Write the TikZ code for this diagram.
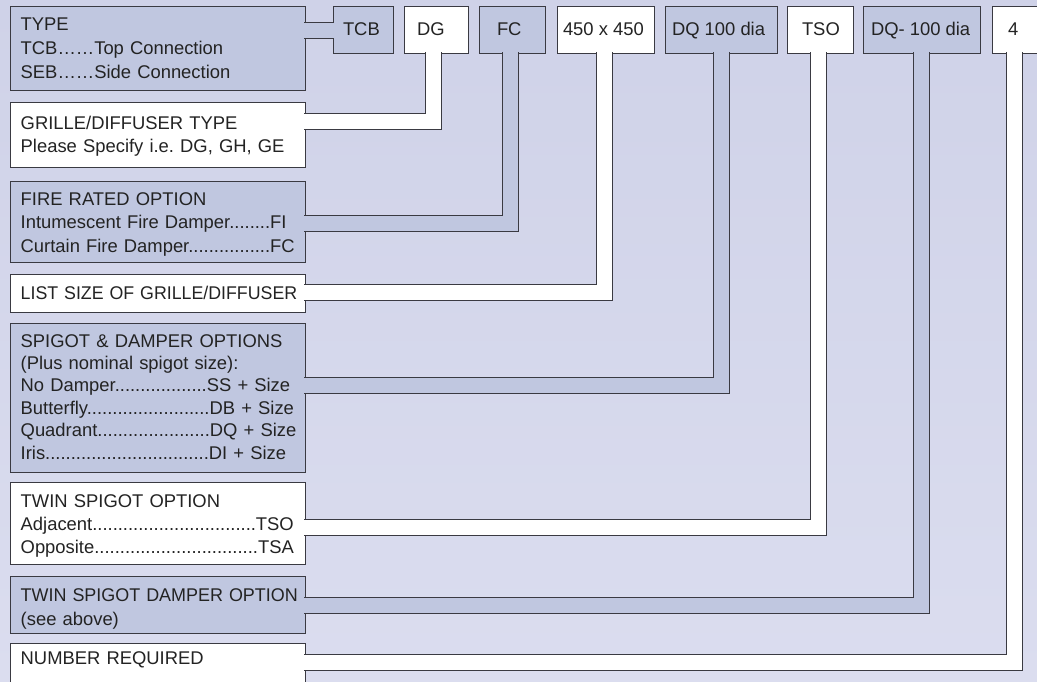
\documentclass[tikz,border=0pt]{standalone}
\usepackage{fontspec}
\usepackage{graphicx}
\setmainfont{Liberation Sans}
\usetikzlibrary{calc}
\ExplSyntaxOn
\cs_new:Npn \dotsrep #1 { \prg_replicate:nn {#1} {.} }
\ExplSyntaxOff
\frenchspacing
\definecolor{bgtop}{RGB}{207,210,232}
\definecolor{bgbot}{RGB}{219,221,239}
\definecolor{boxblue}{RGB}{192,199,224}
\definecolor{edge}{RGB}{58,58,66}
\definecolor{txt}{RGB}{35,35,35}
\begin{document}
\begin{tikzpicture}[x=1pt,y=-1pt,
  box/.style={draw=edge, line width=1pt, rectangle, inner sep=0pt, outer sep=0pt, anchor=north west},
  bbox/.style={box, fill=boxblue},
  wbox/.style={box, fill=white},
  lbl/.style={anchor=base west, inner sep=0pt, outer sep=0pt, text=txt, text width=292pt, align=left, font=\fontsize{18.4}{23.5}\selectfont},
  tlbl/.style={anchor=base west, inner sep=0pt, outer sep=0pt, text=txt, font=\fontsize{18.4}{23.5}\selectfont},
  band/.style={draw=edge, line width=1pt, double distance=15pt, line join=miter, shorten <=-1pt, shorten >=-1pt},
  bandB/.style={band, double=boxblue},
  bandW/.style={band, double=white},
]
\useasboundingbox (0,0) rectangle (1037,681);
\clip (0,0) rectangle (1037,681);
\shade[top color=bgtop, bottom color=bgbot] (0,0) rectangle (1037,681);

% left boxes
\node[bbox, minimum width=295pt, minimum height=84pt]  (typebox)  at (10,6)   {};
\node[wbox, minimum width=295pt, minimum height=65pt]  (grillebox) at (10,102) {};
\node[bbox, minimum width=295pt, minimum height=81pt]  (firebox)  at (10,181) {};
\node[wbox, minimum width=295pt, minimum height=38pt]  (listbox)  at (10,274) {};
\node[bbox, minimum width=295pt, minimum height=149pt] (spigbox)  at (10,323) {};
\node[wbox, minimum width=295pt, minimum height=82pt]  (twinbox)  at (10,482) {};
\node[bbox, minimum width=295pt, minimum height=57pt]  (twindbox) at (10,576) {};
\node[wbox, minimum width=295pt, minimum height=60pt]  (numbox)   at (10,643) {};

% top boxes
\node[bbox, minimum width=60pt,  minimum height=47pt] (tcb)  at (333,6) {};
\node[wbox, minimum width=64pt,  minimum height=47pt] (dg)   at (404,6) {};
\node[bbox, minimum width=66pt,  minimum height=47pt] (fc)   at (479,6) {};
\node[wbox, minimum width=97pt,  minimum height=47pt] (size) at (557,6) {};
\node[bbox, minimum width=112pt, minimum height=47pt] (dq)   at (665,6) {};
\node[wbox, minimum width=66pt,  minimum height=47pt] (tso)  at (787,6) {};
\node[bbox, minimum width=117pt, minimum height=47pt] (dqb)  at (863,6) {};
\node[wbox, minimum width=60pt,  minimum height=47pt] (num)  at (992,6) {};

% connecting bands
\draw[bandB] (typebox.east |- 0,30) -- (tcb.west |- 0,30);
\draw[bandW] (grillebox.east |- 0,121) -| (433,0 |- dg.south);
\draw[bandB] (firebox.east |- 0,223.5) -| (510,0 |- fc.south);
\draw[bandW] (listbox.east |- 0,292) -| (604,0 |- size.south);
\draw[bandB] (spigbox.east |- 0,385) -| (721,0 |- dq.south);
\draw[bandW] (twinbox.east |- 0,527) -| (818,0 |- tso.south);
\draw[bandB] (twindbox.east |- 0,605) -| (921,0 |- dqb.south);
\draw[bandW] (numbox.east |- 0,662) -| (1014,0 |- num.south);

% left texts
\node[lbl, font=\fontsize{18.4}{24}\selectfont] (typetxt) at ($(typebox.north west)+(10.7,24)$)
  {TYPE\\TCB……Top Connection\\SEB……Side Connection};
\node[lbl, font=\fontsize{18.4}{23.3}\selectfont] (grilletxt) at ($(grillebox.north west)+(10.7,27)$)
  {GRILLE/DIFFUSER TYPE\\Please Specify i.e. DG, GH, GE};
\node[lbl] (firetxt) at ($(firebox.north west)+(10.7,24)$)
  {FIRE RATED OPTION\\Intumescent Fire Damper\dotsrep{8}FI\\Curtain Fire Damper\dotsrep{16}FC};
\node[lbl] (listtxt) at ($(listbox.north west)+(10.7,25)$)
  {\scalebox{0.966}[1]{LIST SIZE OF GRILLE/DIFFUSER}};
\node[lbl, font=\fontsize{18.4}{22.4}\selectfont] (spigtxt) at ($(spigbox.north west)+(10.7,24)$)
  {SPIGOT \& DAMPER OPTIONS\\(Plus nominal spigot size):\\No Damper\dotsrep{18}SS + Size\\Butterfly\dotsrep{24}DB + Size\\Quadrant\dotsrep{22}DQ + Size\\Iris\dotsrep{32}DI + Size};
\node[lbl, font=\fontsize{18.4}{23}\selectfont] (twintxt) at ($(twinbox.north west)+(10.7,25)$)
  {TWIN SPIGOT OPTION\\Adjacent\dotsrep{32}TSO\\Opposite\dotsrep{32}TSA};
\node[lbl, font=\fontsize{18.4}{24}\selectfont] (twindtxt) at ($(twindbox.north west)+(10.7,25)$)
  {\scalebox{0.975}[1]{TWIN SPIGOT DAMPER OPTION}\\(see above)};
\node[lbl] (numtxt) at ($(numbox.north west)+(10.7,21)$)
  {NUMBER REQUIRED};

% top texts
\node[tlbl] (tcbtxt)  at (343,35) {TCB};
\node[tlbl] (dgtxt)   at (417,35) {DG};
\node[tlbl] (fctxt)   at (497,35) {FC};
\node[tlbl] (sizetxt) at (563,35) {450 x 450};
\node[tlbl] (dqtxt)   at (672,35) {DQ 100 dia};
\node[tlbl] (tsotxt)  at (802,35) {TSO};
\node[tlbl] (dqbtxt)  at (871,35) {DQ- 100 dia};
\node[tlbl] (numtxt2) at (1008,35) {4};
\end{tikzpicture}
\end{document}
